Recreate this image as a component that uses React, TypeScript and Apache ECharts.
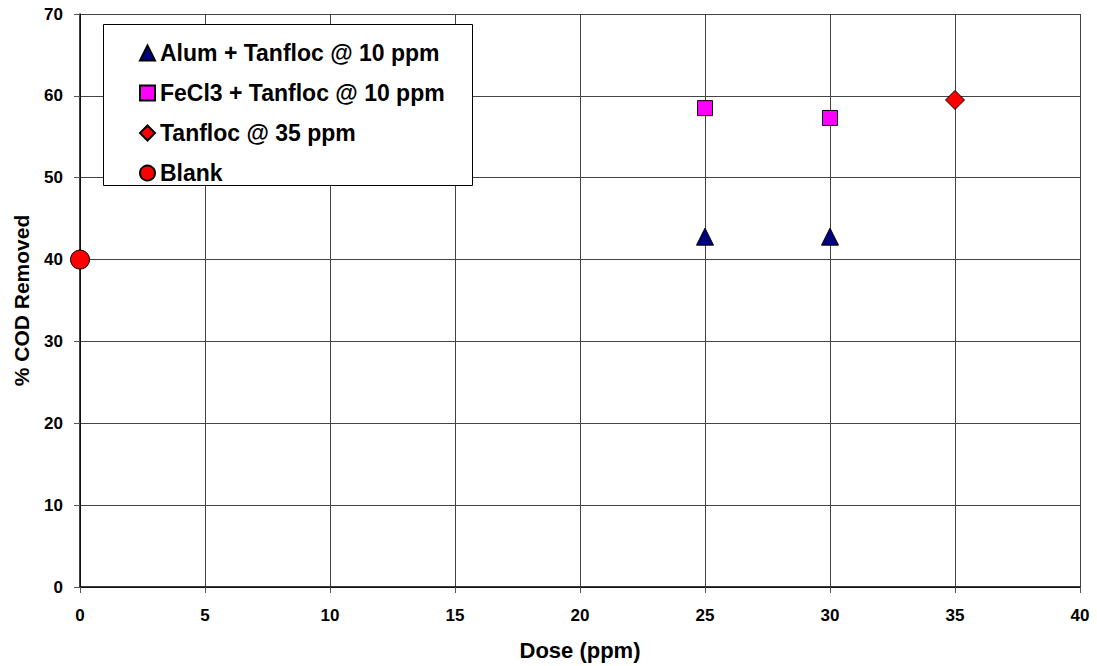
import React, { useEffect, useRef } from "react";
import * as echarts from "echarts";

const seriesNames = [
  "Alum + Tanfloc @ 10 ppm",
  "FeCl3 + Tanfloc @ 10 ppm",
  "Tanfloc @ 35 ppm",
  "Blank",
];
const alumData: [number, number][] = [
  [25, 42.8],
  [30, 42.8],
];
const fecl3Data: [number, number][] = [
  [25, 58.5],
  [30, 57.3],
];
const tanflocData: [number, number][] = [[35, 59.5]];
const blankData: [number, number][] = [[0, 40]];

const FONT = "Liberation Sans, Arial, sans-serif";

export default function App() {
  const ref = useRef<HTMLDivElement>(null);
  useEffect(() => {
    if (!ref.current) return;
    const chart = echarts.init(ref.current, undefined, { renderer: "svg" });
    const border = { borderColor: "#000", borderWidth: 1, opacity: 1 };
    chart.setOption({
      animation: false,
      backgroundColor: "#fff",
      textStyle: { fontFamily: FONT },
      grid: { left: 80, right: 17, top: 14, bottom: 79, show: false },
      xAxis: {
        type: "value",
        min: 0,
        max: 40,
        interval: 5,
        name: "Dose (ppm)",
        nameLocation: "middle",
        nameGap: 52,
        nameTextStyle: { fontWeight: "bold", fontSize: 22, color: "#000", fontFamily: FONT },
        axisLine: { show: true, onZero: false, lineStyle: { color: "#000", width: 1.5 } },
        axisTick: { show: true, inside: false, length: 6, lineStyle: { color: "#555" } },
        axisLabel: { fontWeight: "bold", fontSize: 17, color: "#000", margin: 20, fontFamily: FONT },
        splitLine: { show: true, lineStyle: { color: "#444", width: 1 } },
      },
      yAxis: {
        type: "value",
        min: 0,
        max: 70,
        interval: 10,
        name: "% COD Removed",
        nameLocation: "middle",
        nameGap: 48,
        nameRotate: 90,
        nameTextStyle: { fontWeight: "bold", fontSize: 21, color: "#000", fontFamily: FONT },
        axisLine: { show: true, lineStyle: { color: "#000", width: 1.5 } },
        axisTick: { show: true, inside: false, length: 6, lineStyle: { color: "#555" } },
        axisLabel: { fontWeight: "bold", fontSize: 17, color: "#000", margin: 17, fontFamily: FONT },
        splitLine: { show: true, lineStyle: { color: "#444", width: 1 } },
      },
      legend: {
        orient: "vertical",
        left: 134,
        top: 36,
        z: 10,
        itemGap: 16,
        itemWidth: 15,
        itemHeight: 15,
        textStyle: { fontWeight: "bold", fontSize: 23, lineHeight: 24, color: "#000", fontFamily: FONT },
        data: [
          { name: seriesNames[0], icon: "triangle" },
          { name: seriesNames[1], icon: "rect" },
          { name: seriesNames[2], icon: "diamond" },
          { name: seriesNames[3], icon: "circle" },
        ],
      },
      graphic: [
        {
          type: "rect",
          left: 103,
          top: 24,
          z: 5,
          shape: { width: 369, height: 161 },
          style: { fill: "#fff", stroke: "#000", lineWidth: 1 },
        },
        {
          type: "text",
          x: 580,
          y: -17,
          z: 5,
          style: {
            text: "COD Removal Efficiency",
            textAlign: "center",
            fontWeight: "bold",
            fontSize: 16,
            fontFamily: FONT,
            fill: "#000",
          },
        },
      ],
      series: [
        {
          name: seriesNames[0],
          type: "scatter",
          symbol: "triangle",
          symbolSize: 17,
          data: alumData,
          itemStyle: { color: "#000080", ...border },
          z: 5,
        },
        {
          name: seriesNames[1],
          type: "scatter",
          symbol: "rect",
          symbolSize: 15,
          data: fecl3Data,
          itemStyle: { color: "#ff00ff", ...border },
          z: 5,
        },
        {
          name: seriesNames[2],
          type: "scatter",
          symbol: "diamond",
          symbolSize: 19,
          data: tanflocData,
          itemStyle: { color: "#ff0000", ...border },
          z: 5,
        },
        {
          name: seriesNames[3],
          type: "scatter",
          symbol: "circle",
          symbolSize: 19,
          data: blankData,
          itemStyle: { color: "#ff0000", ...border },
          z: 5,
        },
      ],
    });
    return () => chart.dispose();
  }, []);
  return <div ref={ref} style={{ width: 1097, height: 666, position: "fixed", left: 0, top: 0 }} />;
}
